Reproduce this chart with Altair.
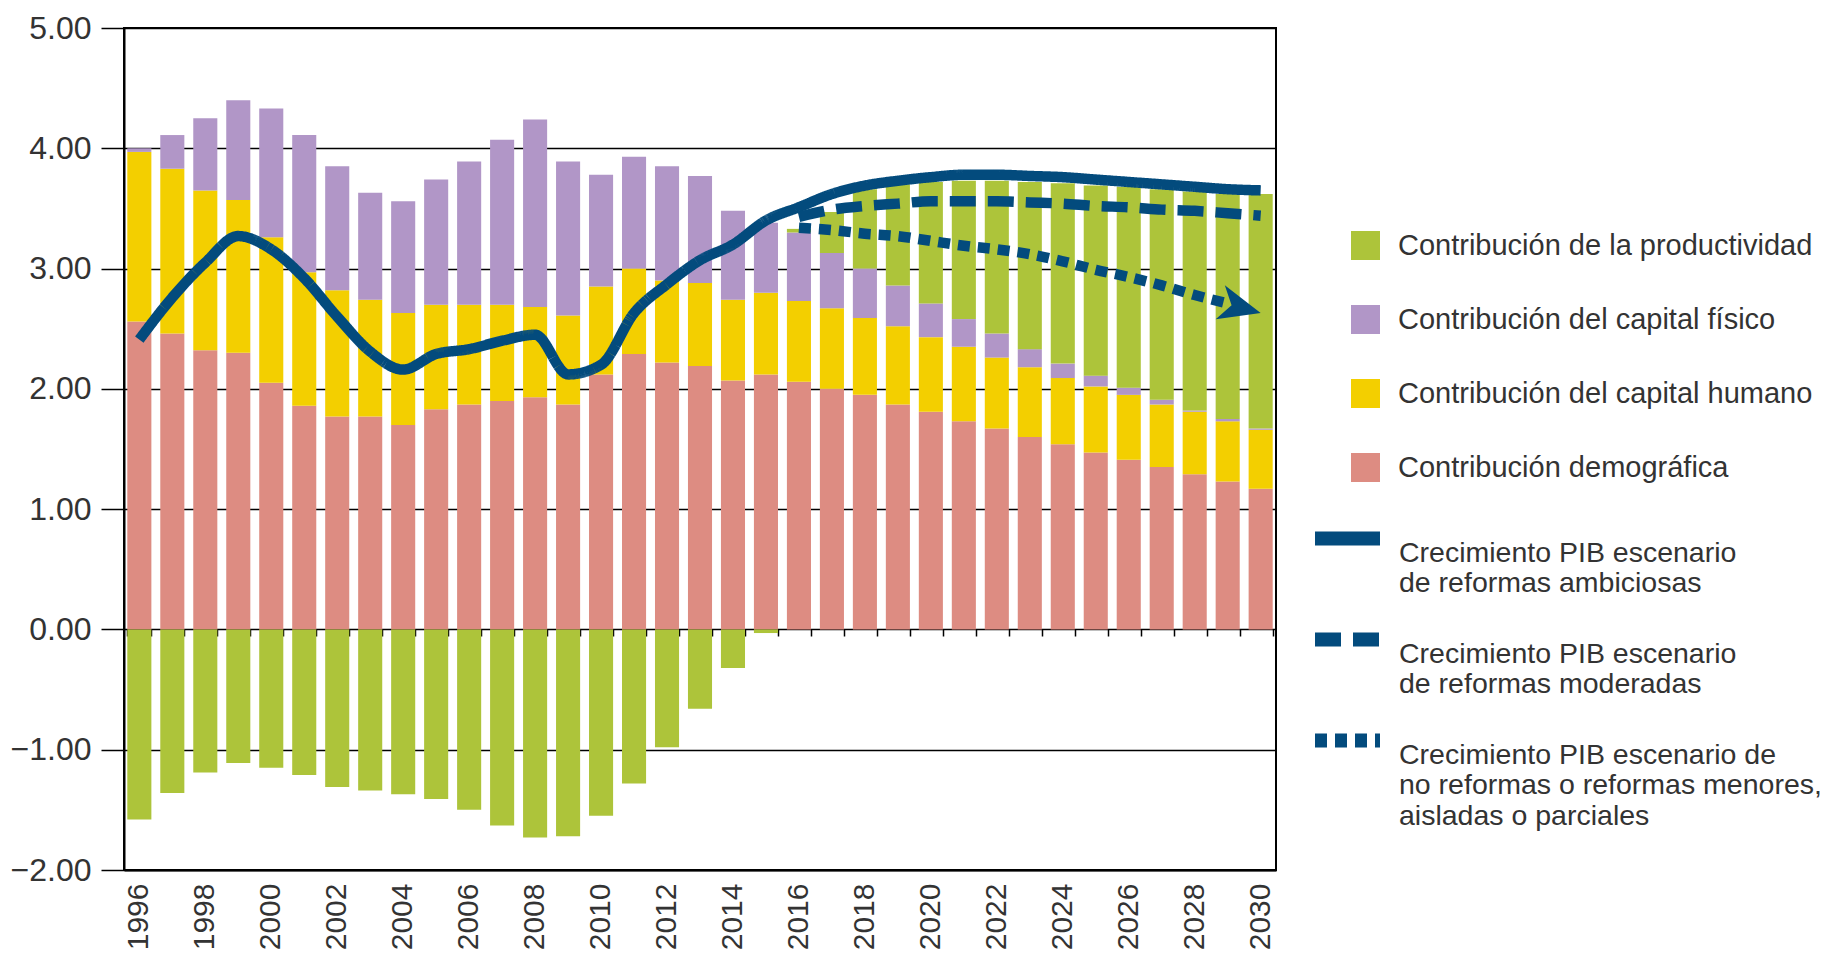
import altair as alt
import pandas as pd

# ---------------- data ----------------
years = list(range(1996, 2031))

demografica = [2.56, 2.46, 2.32, 2.30, 2.05, 1.86, 1.77, 1.77, 1.70, 1.83, 1.87, 1.90,
               1.93, 1.87, 2.12, 2.29, 2.22, 2.19, 2.07, 2.12, 2.06, 2.00, 1.95, 1.87,
               1.81, 1.73, 1.67, 1.60, 1.54, 1.47, 1.41, 1.35, 1.29, 1.23, 1.17]
humano = [1.41, 1.37, 1.33, 1.27, 1.21, 1.11, 1.05, 0.97, 0.93, 0.87, 0.83, 0.80,
          0.75, 0.74, 0.73, 0.71, 0.68, 0.69, 0.67, 0.68, 0.67, 0.67, 0.64, 0.65,
          0.62, 0.62, 0.59, 0.58, 0.55, 0.55, 0.54, 0.52, 0.52, 0.50, 0.49]
fisico = [0.03, 0.28, 0.60, 0.83, 1.07, 1.14, 1.03, 0.89, 0.93, 1.04, 1.19, 1.37,
          1.56, 1.28, 0.93, 0.93, 0.95, 0.89, 0.74, 0.58, 0.57, 0.46, 0.41, 0.34,
          0.28, 0.23, 0.20, 0.15, 0.12, 0.09, 0.06, 0.04, 0.01, 0.02, 0.01]
productividad = [-1.58, -1.36, -1.19, -1.11, -1.15, -1.21, -1.31, -1.34, -1.37, -1.41,
                 -1.50, -1.63, -1.73, -1.72, -1.55, -1.28, -0.98, -0.66, -0.32, -0.03,
                 0.03, 0.34, 0.66, 0.84, 1.01, 1.15, 1.27, 1.39, 1.50, 1.58, 1.67,
                 1.75, 1.82, 1.87, 1.95]

# GDP growth: history 1996-2014 continued by the ambitious-reform scenario
ambiciosas = [2.41, 2.76, 3.05, 3.27, 3.16, 2.92, 2.60, 2.31, 2.16, 2.29, 2.33, 2.40,
              2.45, 2.12, 2.20, 2.63, 2.87, 3.07, 3.20,
              3.40, 3.51, 3.62, 3.69, 3.73, 3.76, 3.78, 3.78, 3.77, 3.76, 3.74, 3.72,
              3.70, 3.68, 3.66, 3.65]
moderadas_years = list(range(2016, 2031))
moderadas = [3.43, 3.49, 3.52, 3.54, 3.56, 3.56, 3.56, 3.55, 3.54, 3.52, 3.51, 3.49,
             3.48, 3.46, 3.44]
no_reformas_years = list(range(2016, 2030))
no_reformas = [3.34, 3.32, 3.29, 3.27, 3.23, 3.19, 3.16, 3.12, 3.06, 2.99, 2.93, 2.86,
               2.78, 2.71]
arrow_years = [2030]
arrow_values = [2.63]

comp_labels = ["Contribución de la productividad", "Contribución del capital físico",
               "Contribución del capital humano", "Contribución demográfica"]
comp_colors = ["#adc43a", "#b196c7", "#f3cf00", "#dd8c82"]
line_labels = ["Crecimiento PIB escenario|de reformas ambiciosas",
               "Crecimiento PIB escenario|de reformas moderadas",
               "Crecimiento PIB escenario de|no reformas o reformas menores,|aisladas o parciales"]
label_years = list(range(1996, 2031, 2))
y_ticks = [-2, -1, 0, 1, 2, 3, 4, 5]

NAVY = "#034b7d"
TXT = "#333333"
FONT = "Liberation Sans"

# ---------------- tables ----------------
rows = []
series = [demografica, humano, fisico, productividad]
names = [comp_labels[3], comp_labels[2], comp_labels[1], comp_labels[0]]
for k, (nm, vals) in enumerate(zip(names, series)):
    for yr, v in zip(years, vals):
        rows.append({"year": yr, "comp": nm, "value": v, "k": k})
bars_df = pd.DataFrame(rows)

lrows = []
for yr, v in zip(years, ambiciosas):
    lrows.append({"year": yr, "value": v, "series": line_labels[0]})
for yr, v in zip(moderadas_years, moderadas):
    lrows.append({"year": yr, "value": v, "series": line_labels[1]})
for yr, v in zip(no_reformas_years, no_reformas):
    lrows.append({"year": yr, "value": v, "series": line_labels[2]})
lines_df = pd.DataFrame(lrows)
arrow_df = pd.DataFrame({"year": arrow_years, "value": arrow_values})

# ---------------- chart ----------------
H = 842
xscale = alt.Scale(paddingInner=0.27, paddingOuter=0.1)

y_enc = alt.Y("value:Q", scale=alt.Scale(domain=[-2, 5], nice=False),
              axis=alt.Axis(values=y_ticks, format=".2f", title=None, tickSize=23,
                            labelPadding=10, labelFontSize=32, labelFont=FONT,
                            labelColor=TXT, tickColor="black", tickWidth=1.5,
                            domainColor="black", domainWidth=2, grid=True,
                            gridColor="black", gridWidth=1.5))

bars = alt.Chart(bars_df).mark_bar().encode(
    x=alt.X("year:O", scale=xscale,
            axis=alt.Axis(orient="bottom", values=label_years, labelAngle=270,
                          labelFontSize=30, labelFont=FONT, labelColor=TXT,
                          labelPadding=13, ticks=False, tickSize=0, domain=True,
                          domainColor="black", domainWidth=2, grid=False, title=None)),
    y=y_enc,
    color=alt.Color("comp:N", scale=alt.Scale(domain=comp_labels, range=comp_colors),
                    legend=alt.Legend(title=None, orient="none", legendX=1227, legendY=203,
                                      symbolType="square", symbolSize=841,
                                      symbolStrokeWidth=0, rowPadding=44, labelOffset=18,
                                      labelFontSize=29, labelFont=FONT, labelColor=TXT,
                                      labelLimit=800)),
    order=alt.Order("k:Q", sort="ascending"),
)

x_line = alt.X("year:O", scale=xscale,
               axis=alt.Axis(orient="bottom", offset=-round(H * 2 / 7), labels=False,
                             domain=False, ticks=True, tickBand="extent", tickSize=7,
                             tickColor="black", tickWidth=1.5, grid=False, title=None))

lines = alt.Chart(lines_df).mark_line(strokeWidth=10.5, interpolate="monotone",
                                       color=NAVY, strokeCap="butt").encode(
    x=x_line,
    y=alt.Y("value:Q"),
    strokeDash=alt.StrokeDash(
        "series:N",
        scale=alt.Scale(domain=line_labels, range=[[1, 0], [26, 12], [12, 8]]),
        legend=alt.Legend(title=None, orient="none", legendX=1184, legendY=471,
                          symbolType="stroke", symbolSize=4225, symbolStrokeWidth=14,
                          symbolStrokeColor=NAVY, rowPadding=2, labelOffset=12,
                          labelBaseline="top", labelExpr="split(datum.label, '|')",
                          labelFontSize=28.5, labelFont=FONT, labelColor=TXT,
                          labelLimit=800)),
)

arrow = alt.Chart(arrow_df).mark_point(
    shape="M 0 0 L -1 -0.42 L -0.72 0 L -1 0.42 Z", filled=True, size=7000,
    color=NAVY, opacity=1, angle=15, strokeWidth=0).encode(
    x=x_line, y=alt.Y("value:Q"))

chart = alt.layer(bars, alt.layer(lines, arrow)).resolve_scale(
    x="independent"
).properties(
    width=1152, height=H,
    padding={"left": 2, "top": 4, "right": 0, "bottom": 0},
).configure_view(stroke="black", strokeWidth=2)

chart.save("out.html", embed_options={"renderer": "svg", "actions": False})
